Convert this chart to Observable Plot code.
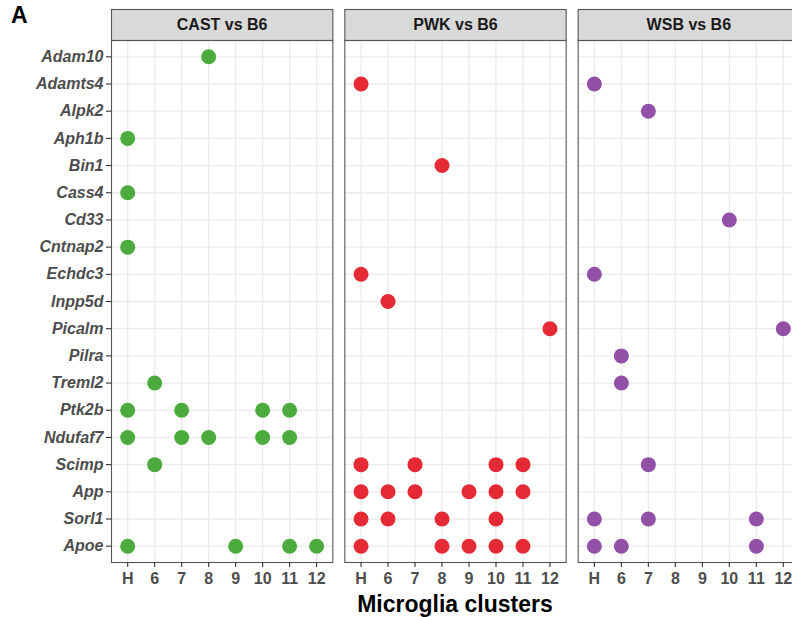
<!DOCTYPE html>
<html>
<head>
<meta charset="utf-8">
<script src="https://cdn.jsdelivr.net/npm/d3@7"></script>
<script src="https://cdn.jsdelivr.net/npm/@observablehq/plot@0.6"></script>
<style>
  html, body { margin: 0; padding: 0; background: #fff; overflow: hidden; }
  #wrap { position: relative; width: 792px; height: 617px; overflow: hidden; font-family: "Liberation Sans", Arial, sans-serif; }
  #panel { position: absolute; left: 11px; top: 2px; font-size: 23px; font-weight: bold; color: #000; }
  #xlabel { position: absolute; left: 111px; width: 688px; top: 590px; text-align: center; font-size: 23px; font-weight: bold; color: #000; line-height: 28px; }
  #chart svg { display: block; max-width: none !important; }
  #chart g[aria-label="x-axis tick label"], #chart g[aria-label="y-axis tick label"] { fill: #4d4d4d; }
  #chart g[aria-label="y-axis tick label"] text { font-style: italic; }
</style>
</head>
<body>
<div id="wrap">
  <div id="chart"></div>
  <div id="panel">A</div>
  <div id="xlabel">Microglia clusters</div>
</div>
<script>
// Categories
const strains = ["CAST vs B6", "PWK vs B6", "WSB vs B6"];
const strainColors = ["#41a633", "#e41f2a", "#8d47a2"];
const clusters = ["H", "6", "7", "8", "9", "10", "11", "12"];
const genes = ["Adam10", "Adamts4", "Alpk2", "Aph1b", "Bin1", "Cass4", "Cd33", "Cntnap2",
  "Echdc3", "Inpp5d", "Picalm", "Pilra", "Treml2", "Ptk2b", "Ndufaf7", "Scimp", "App", "Sorl1", "Apoe"];

// Significant gene / cluster hits per comparison
const castHits = [
  ["Adam10", "8"],
  ["Aph1b", "H"],
  ["Cass4", "H"],
  ["Cntnap2", "H"],
  ["Treml2", "6"],
  ["Ptk2b", "H"], ["Ptk2b", "7"], ["Ptk2b", "10"], ["Ptk2b", "11"],
  ["Ndufaf7", "H"], ["Ndufaf7", "7"], ["Ndufaf7", "8"], ["Ndufaf7", "10"], ["Ndufaf7", "11"],
  ["Scimp", "6"],
  ["Apoe", "H"], ["Apoe", "9"], ["Apoe", "11"], ["Apoe", "12"]
];
const pwkHits = [
  ["Adamts4", "H"],
  ["Bin1", "8"],
  ["Echdc3", "H"],
  ["Inpp5d", "6"],
  ["Picalm", "12"],
  ["Scimp", "H"], ["Scimp", "7"], ["Scimp", "10"], ["Scimp", "11"],
  ["App", "H"], ["App", "6"], ["App", "7"], ["App", "9"], ["App", "10"], ["App", "11"],
  ["Sorl1", "H"], ["Sorl1", "6"], ["Sorl1", "8"], ["Sorl1", "10"],
  ["Apoe", "H"], ["Apoe", "8"], ["Apoe", "9"], ["Apoe", "10"], ["Apoe", "11"]
];
const wsbHits = [
  ["Adamts4", "H"],
  ["Alpk2", "7"],
  ["Cd33", "10"],
  ["Echdc3", "H"],
  ["Picalm", "12"],
  ["Pilra", "6"],
  ["Treml2", "6"],
  ["Scimp", "7"],
  ["Sorl1", "H"], ["Sorl1", "7"], ["Sorl1", "11"],
  ["Apoe", "H"], ["Apoe", "6"], ["Apoe", "11"]
];

const hitLists = [castHits, pwkHits, wsbHits];
const data = hitLists.flatMap((list, i) => list.map(([gene, cluster]) => ({strain: strains[i], gene, cluster})));

const chart = Plot.plot({
  width: 799,
  height: 617,
  marginTop: 40,
  marginLeft: 111,
  marginRight: 0,
  marginBottom: 55,
  style: {fontFamily: "'Liberation Sans', Arial, sans-serif", background: "#fff"},
  fx: {domain: strains, paddingInner: 0.0515, paddingOuter: 0, round: false, axis: null, label: null},
  x: {domain: clusters, type: "point", padding: 0.6, round: false, label: null},
  y: {domain: genes, type: "point", padding: 0.6, round: false, label: null},
  color: {domain: strains, range: strainColors, legend: false},
  marks: [
    // strip backgrounds above each panel
    Plot.frame({fill: "#d9d9d9", stroke: "#555", strokeWidth: 1.1, insetTop: -31, insetBottom: 522}),
    Plot.text(strains, {fx: d => d, text: d => d, frameAnchor: "top", dy: -16, lineAnchor: "middle",
      fontSize: 16, fontWeight: "bold", fill: "#1a1a1a"}),
    Plot.gridX({stroke: "#ebebeb", strokeOpacity: 1, strokeWidth: 1.3}),
    Plot.gridY({stroke: "#ebebeb", strokeOpacity: 1, strokeWidth: 1.3}),
    Plot.frame({stroke: "#555", strokeWidth: 1.1}),
    Plot.axisX({tickSize: 5, tickPadding: 5, fontSize: 16, fontWeight: "bold", stroke: "#333", strokeWidth: 1.1, label: null}),
    Plot.axisY({tickSize: 5, tickPadding: 3, fontSize: 16, fontWeight: "bold", fontStyle: "italic", stroke: "#333", strokeWidth: 1.1, label: null}),
    Plot.dot(data, {x: "cluster", y: "gene", fx: "strain", fill: "strain", r: 7.5, fillOpacity: 0.95})
  ]
});
document.getElementById("chart").appendChild(chart);
</script>
</body>
</html>
